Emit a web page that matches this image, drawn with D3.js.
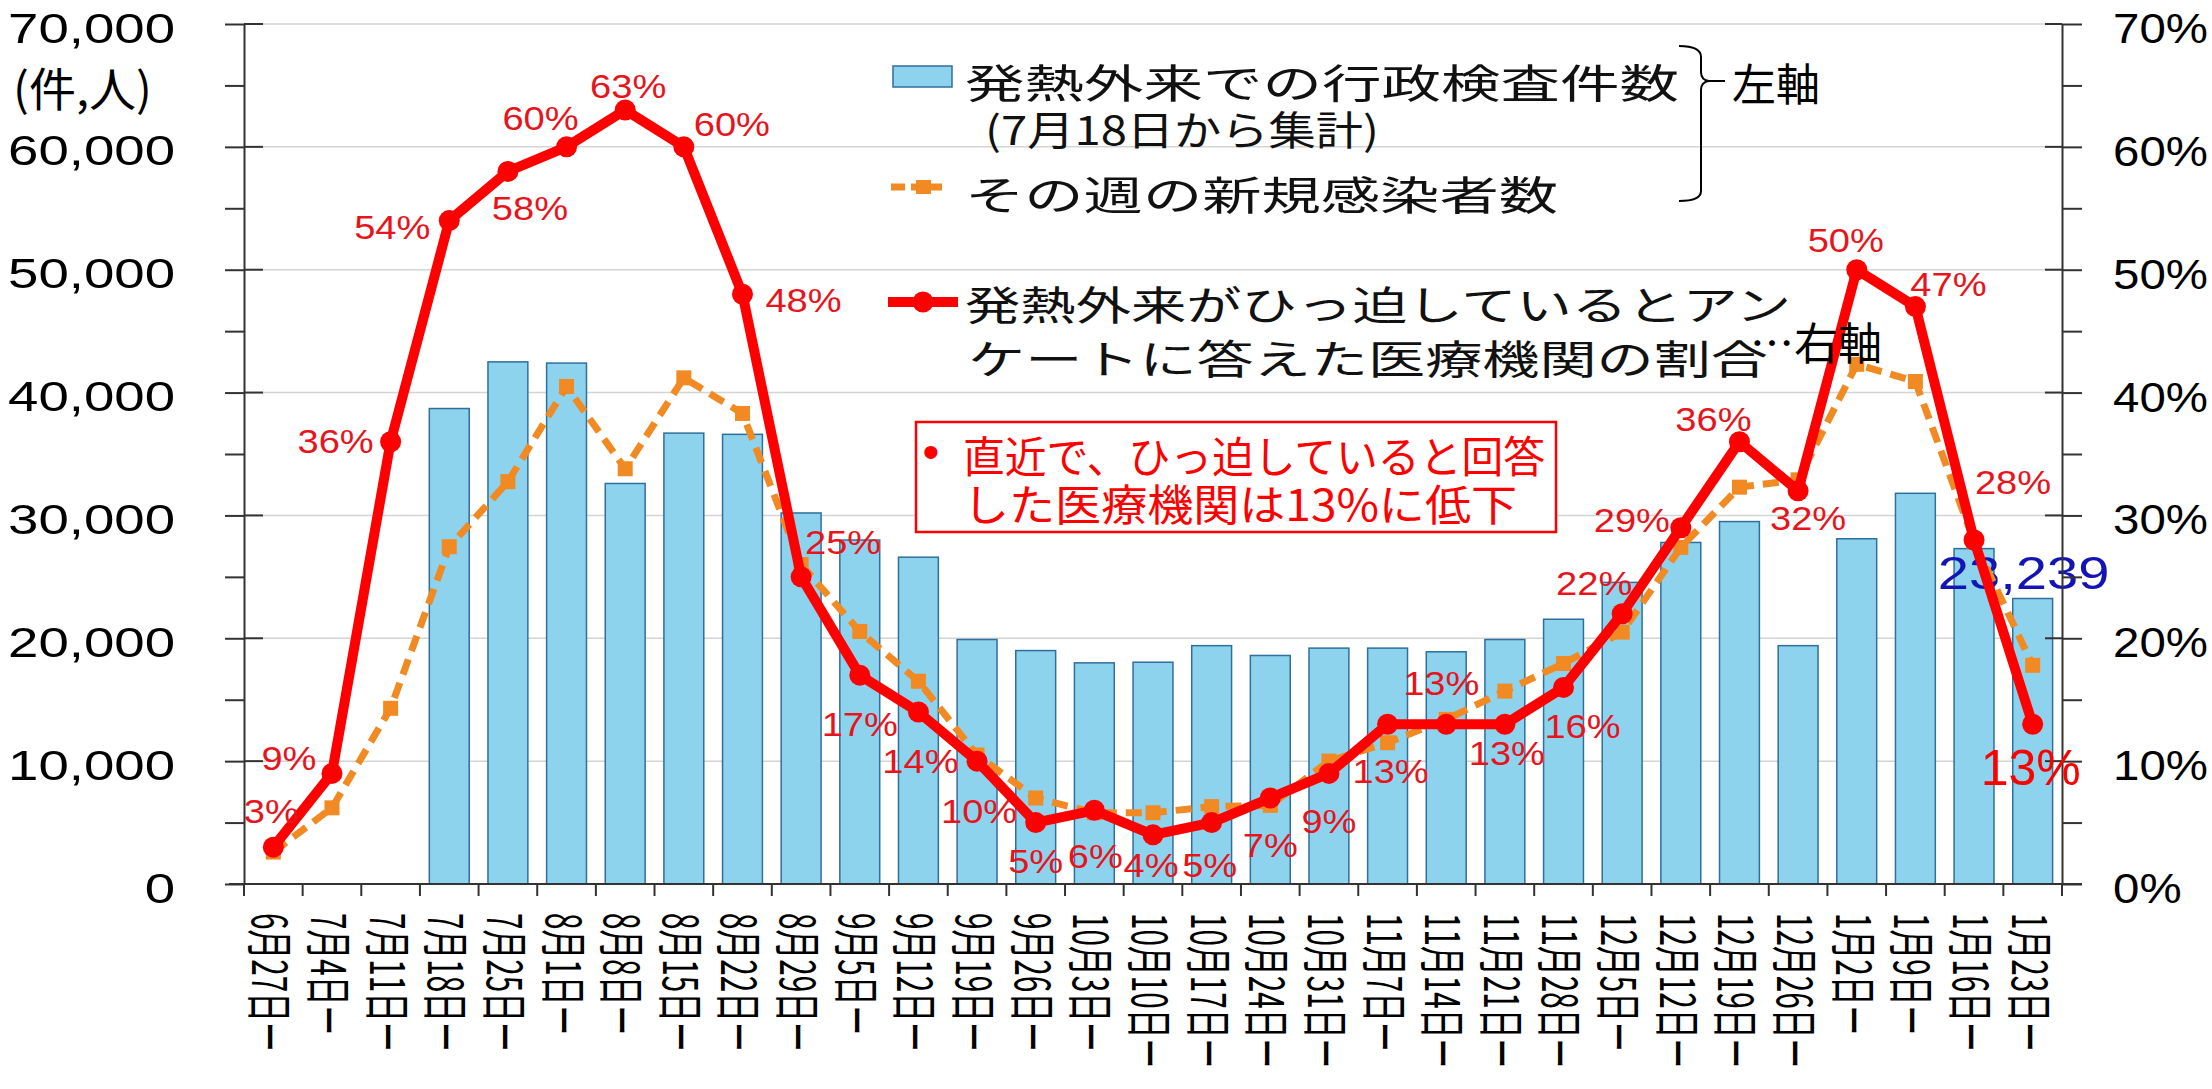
<!DOCTYPE html>
<html>
<head>
<meta charset="utf-8">
<script src="https://cdn.jsdelivr.net/npm/d3@7"></script>
<style>
  body { margin: 0; background: #fff; }
  svg { display: block; }
</style>
</head>
<body>
<svg id="chart"></svg>
<script>
// week start dates
const weeks = ["6月27日ー","7月4日ー","7月11日ー","7月18日ー","7月25日ー","8月1日ー","8月8日ー","8月15日ー",
  "8月22日ー","8月29日ー","9月5日ー","9月12日ー","9月19日ー","9月26日ー","10月3日ー","10月10日ー","10月17日ー",
  "10月24日ー","10月31日ー","11月7日ー","11月14日ー","11月21日ー","11月28日ー","12月5日ー","12月12日ー",
  "12月19日ー","12月26日ー","1月2日ー","1月9日ー","1月16日ー","1月23日ー"];

// 発熱外来での行政検査件数 (from 7/18)
const testCounts = [null,null,null,38700,42500,42400,32600,36700,36600,30200,28000,26600,19900,19000,18000,
  18050,19400,18600,19200,19200,18900,19900,21550,24550,27800,29500,19400,28100,31800,27300,23239];

// その週の新規感染者数
const newCases = [2600,6200,14300,27450,32750,40500,33800,41200,38300,26000,20550,16500,10500,7000,5800,
  5800,6300,6400,10000,11500,13400,15700,17950,20500,27400,32300,32900,42300,40900,27900,17800];

// ひっ迫していると答えた医療機関の割合 (%)
const tightRate = [3,9,36,54,58,60,63,60,48,25,17,14,10,5,6,4,5,7,9,13,13,13,16,22,29,36,32,50,47,28,13];

const leftTicks = [0,10000,20000,30000,40000,50000,60000,70000];
const rightTicks = [0,10,20,30,40,50,60,70];

// where each % label sits relative to its point (label centre x, baseline y)
const labelOffsets = [[-2,-24],[-43,-3],[-55,11],[-57,18],[22,49],[-26,-17],[3,-12],[48,-11],[61,18],[42,-23],
  [0,61],[2,61],[2,62],[0,50],[1,58],[-2,42],[-2,54],[0,59],[0,60],[3,59],[-5,-29],[2,41],[19,51],[-28,-19],
  [-49,4],[-26,-11],[10,39],[-11,-18],[33,-11],[39,-46],[-2,61]];

const W = 2212, H = 1089;
const m = { left: 244, right: 2062, top: 24, bottom: 884 };
const JP = "'Noto Sans CJK JP', 'Noto Sans CJK SC', sans-serif";
const NUM = "'Liberation Sans', Arial, sans-serif";

const svg = d3.select("#chart").attr("width", W).attr("height", H)
  .style("background", "#fff");

const x = d3.scaleBand().domain(weeks).range([m.left, m.right])
  .paddingInner(0.32).paddingOuter(0.16);
const yL = d3.scaleLinear().domain([0, 70000]).range([m.bottom, m.top]);
const yR = d3.scaleLinear().domain([0, 70]).range([m.bottom, m.top]);
const cx = d => x(d) + x.bandwidth() / 2;

// text with horizontal stretch (the original slide is squashed/stretched)
function putText(parent, str, px, py, o) {
  const sx = o.sx || 1;
  const t = parent.append("text")
    .attr("transform", `translate(${px},${py})` + (o.rot ? ` rotate(${o.rot})` : "") + ` scale(${sx},1)`)
    .attr("font-family", o.font || NUM)
    .attr("font-size", o.size)
    .attr("fill", o.fill || "#000")
    .attr("text-anchor", o.anchor || "start")
    .text(str);
  if (o.baseline) t.attr("dominant-baseline", o.baseline);
  if (o.len) t.attr("textLength", o.len / sx).attr("lengthAdjust", "spacingAndGlyphs");
  return t;
}

// gridlines
svg.append("g").selectAll("line")
  .data(leftTicks.filter(v => v > 0))
  .join("line")
  .attr("x1", m.left).attr("x2", m.right)
  .attr("y1", d => yL(d)).attr("y2", d => yL(d))
  .attr("stroke", "#d4d4d4").attr("stroke-width", 1.5);

// bars
svg.append("g").selectAll("rect")
  .data(weeks.map((w, i) => ({ w, v: testCounts[i] })).filter(d => d.v != null))
  .join("rect")
  .attr("x", d => x(d.w))
  .attr("y", d => yL(d.v))
  .attr("width", x.bandwidth())
  .attr("height", d => yL(0) - yL(d.v))
  .attr("fill", "#8dd3ee")
  .attr("stroke", "#2f6f9c")
  .attr("stroke-width", 1.5);

// label of latest bar
const lastI = testCounts.length - 1;
putText(svg, d3.format(",")(testCounts[lastI]), cx(weeks[lastI]) - 9, yL(testCounts[lastI]) - 9,
  { size: 46, sx: 1.22, anchor: "middle", fill: "#1414b4" });

// left axis
const gL = svg.append("g").attr("transform", `translate(${m.left},0)`);
gL.call(d3.axisLeft(yL).tickValues(d3.range(0, 70001, 5000)).tickSize(19).tickSizeOuter(0).tickFormat(""));
gL.selectAll("line").attr("stroke", "#333").attr("stroke-width", 2);
gL.select(".domain").attr("stroke", "#333").attr("stroke-width", 2);
gL.selectAll(".inner").data(leftTicks).join("line")
  .attr("x1", 0).attr("x2", 19).attr("y1", d => yL(d)).attr("y2", d => yL(d))
  .attr("stroke", "#333").attr("stroke-width", 2);
leftTicks.forEach(v => putText(svg, d3.format(",")(v), 175, yL(v) + 18.5, { size: 43, sx: 1.27, anchor: "end" }));
putText(svg, "(件,人)", 13, 86, { font: JP, size: 46, baseline: "central", len: 139 });

// right axis
const gR = svg.append("g").attr("transform", `translate(${m.right},0)`);
gR.call(d3.axisRight(yR).tickValues(d3.range(0, 71, 5)).tickSize(20).tickSizeOuter(0).tickFormat(""));
gR.selectAll("line").attr("stroke", "#333").attr("stroke-width", 2);
gR.select(".domain").attr("stroke", "#333").attr("stroke-width", 2);
gR.selectAll(".inner").data(rightTicks).join("line")
  .attr("x1", -17).attr("x2", 0).attr("y1", d => yR(d)).attr("y2", d => yR(d))
  .attr("stroke", "#333").attr("stroke-width", 2);
rightTicks.forEach(v => putText(svg, v + "%", 2113, yR(v) + 19, { size: 42, sx: 1.13 }));

// bottom axis, ticks on week boundaries
const gB = svg.append("g");
gB.append("line").attr("x1", 229).attr("x2", 2082).attr("y1", m.bottom).attr("y2", m.bottom)
  .attr("stroke", "#333").attr("stroke-width", 2);
gB.selectAll(".tk").data(d3.range(weeks.length + 1)).join("line")
  .attr("x1", k => x.range()[0] + k * x.step()).attr("x2", k => x.range()[0] + k * x.step())
  .attr("y1", m.bottom).attr("y2", m.bottom + 12)
  .attr("stroke", "#333").attr("stroke-width", 2);
weeks.forEach(w => putText(gB, w, cx(w), 913, { font: JP, size: 48, sx: 0.62, rot: 90, baseline: "central" }));

// new cases (dashed orange)
const orange = "#f28a24";
svg.append("path")
  .datum(newCases)
  .attr("d", d3.line().x((d, i) => cx(weeks[i])).y(d => yL(d)))
  .attr("fill", "none").attr("stroke", orange).attr("stroke-width", 7)
  .attr("stroke-dasharray", "16,9");
svg.append("g").selectAll("rect")
  .data(newCases)
  .join("rect")
  .attr("x", (d, i) => cx(weeks[i]) - 7.5).attr("y", d => yL(d) - 7.5)
  .attr("width", 15).attr("height", 15).attr("fill", orange);

// % of clinics reporting strain (red)
const red = "#ff0000";
svg.append("path")
  .datum(tightRate)
  .attr("d", d3.line().x((d, i) => cx(weeks[i])).y(d => yR(d)))
  .attr("fill", "none").attr("stroke", red).attr("stroke-width", 10)
  .attr("stroke-linejoin", "round");
svg.append("g").selectAll("circle")
  .data(tightRate)
  .join("circle")
  .attr("cx", (d, i) => cx(weeks[i])).attr("cy", d => yR(d))
  .attr("r", 10.5).attr("fill", red);

tightRate.forEach((v, i) => {
  const big = i === tightRate.length - 1;
  putText(svg, v + "%", cx(weeks[i]) + labelOffsets[i][0], yR(v) + labelOffsets[i][1],
    { size: big ? 50 : 34, sx: big ? 1.0 : 1.12, anchor: "middle", fill: big ? "#ff0000" : "#e8141c" });
});

// legend
const lg = svg.append("g");
lg.append("rect").attr("x", 893).attr("y", 66).attr("width", 59).attr("height", 21)
  .attr("fill", "#8dd3ee").attr("stroke", "#2f6f9c").attr("stroke-width", 1.5);
putText(lg, "発熱外来での行政検査件数", 965, 80.5, { font: JP, size: 40, baseline: "central", len: 714, fill: "#111" });
putText(lg, "(7月18日から集計)", 985, 127.5, { font: JP, size: 40, baseline: "central", len: 394, fill: "#111" });
lg.append("line").attr("x1", 891).attr("x2", 942).attr("y1", 187).attr("y2", 187)
  .attr("stroke", orange).attr("stroke-width", 7).attr("stroke-dasharray", "14,6");
lg.append("rect").attr("x", 916).attr("y", 180).attr("width", 15).attr("height", 14).attr("fill", orange);
putText(lg, "その週の新規感染者数", 965, 192.5, { font: JP, size: 40, baseline: "central", len: 593, fill: "#111" });
lg.append("line").attr("x1", 888).attr("x2", 958).attr("y1", 302).attr("y2", 302)
  .attr("stroke", red).attr("stroke-width", 10);
lg.append("circle").attr("cx", 923).attr("cy", 302).attr("r", 10.5).attr("fill", red);
putText(lg, "発熱外来がひっ迫しているとアン", 965, 303, { font: JP, size: 40, baseline: "central", len: 826, fill: "#111" });
putText(lg, "ケートに答えた医療機関の割合", 968, 357, { font: JP, size: 40, baseline: "central", len: 800, fill: "#111" });
putText(lg, "…右軸", 1750, 341, { font: JP, size: 44, baseline: "central", len: 132, fill: "#000" });

// brace grouping the left-axis series
lg.append("path")
  .attr("d", "M1679,46 Q1701,46 1701,57 L1701,72 Q1701,80 1709,81 Q1701,82 1701,90 L1701,191 Q1701,201 1679,201 M1709,81 L1725,81")
  .attr("fill", "none").attr("stroke", "#000").attr("stroke-width", 2);
putText(lg, "左軸", 1732, 82, { font: JP, size: 44, baseline: "central", len: 88, fill: "#000" });

// callout
const co = svg.append("g");
co.append("rect").attr("x", 916).attr("y", 422).attr("width", 640).attr("height", 110)
  .attr("fill", "#fff").attr("stroke", red).attr("stroke-width", 2.5);
putText(co, "•", 931, 468, { font: NUM, size: 48, anchor: "middle", fill: red });
putText(co, "直近で、ひっ迫していると回答", 963, 454, { font: JP, size: 43, baseline: "central", len: 582, fill: red });
putText(co, "した医療機関は13%に低下", 963, 502, { font: JP, size: 43, baseline: "central", len: 554, fill: red });
</script>
</body>
</html>
